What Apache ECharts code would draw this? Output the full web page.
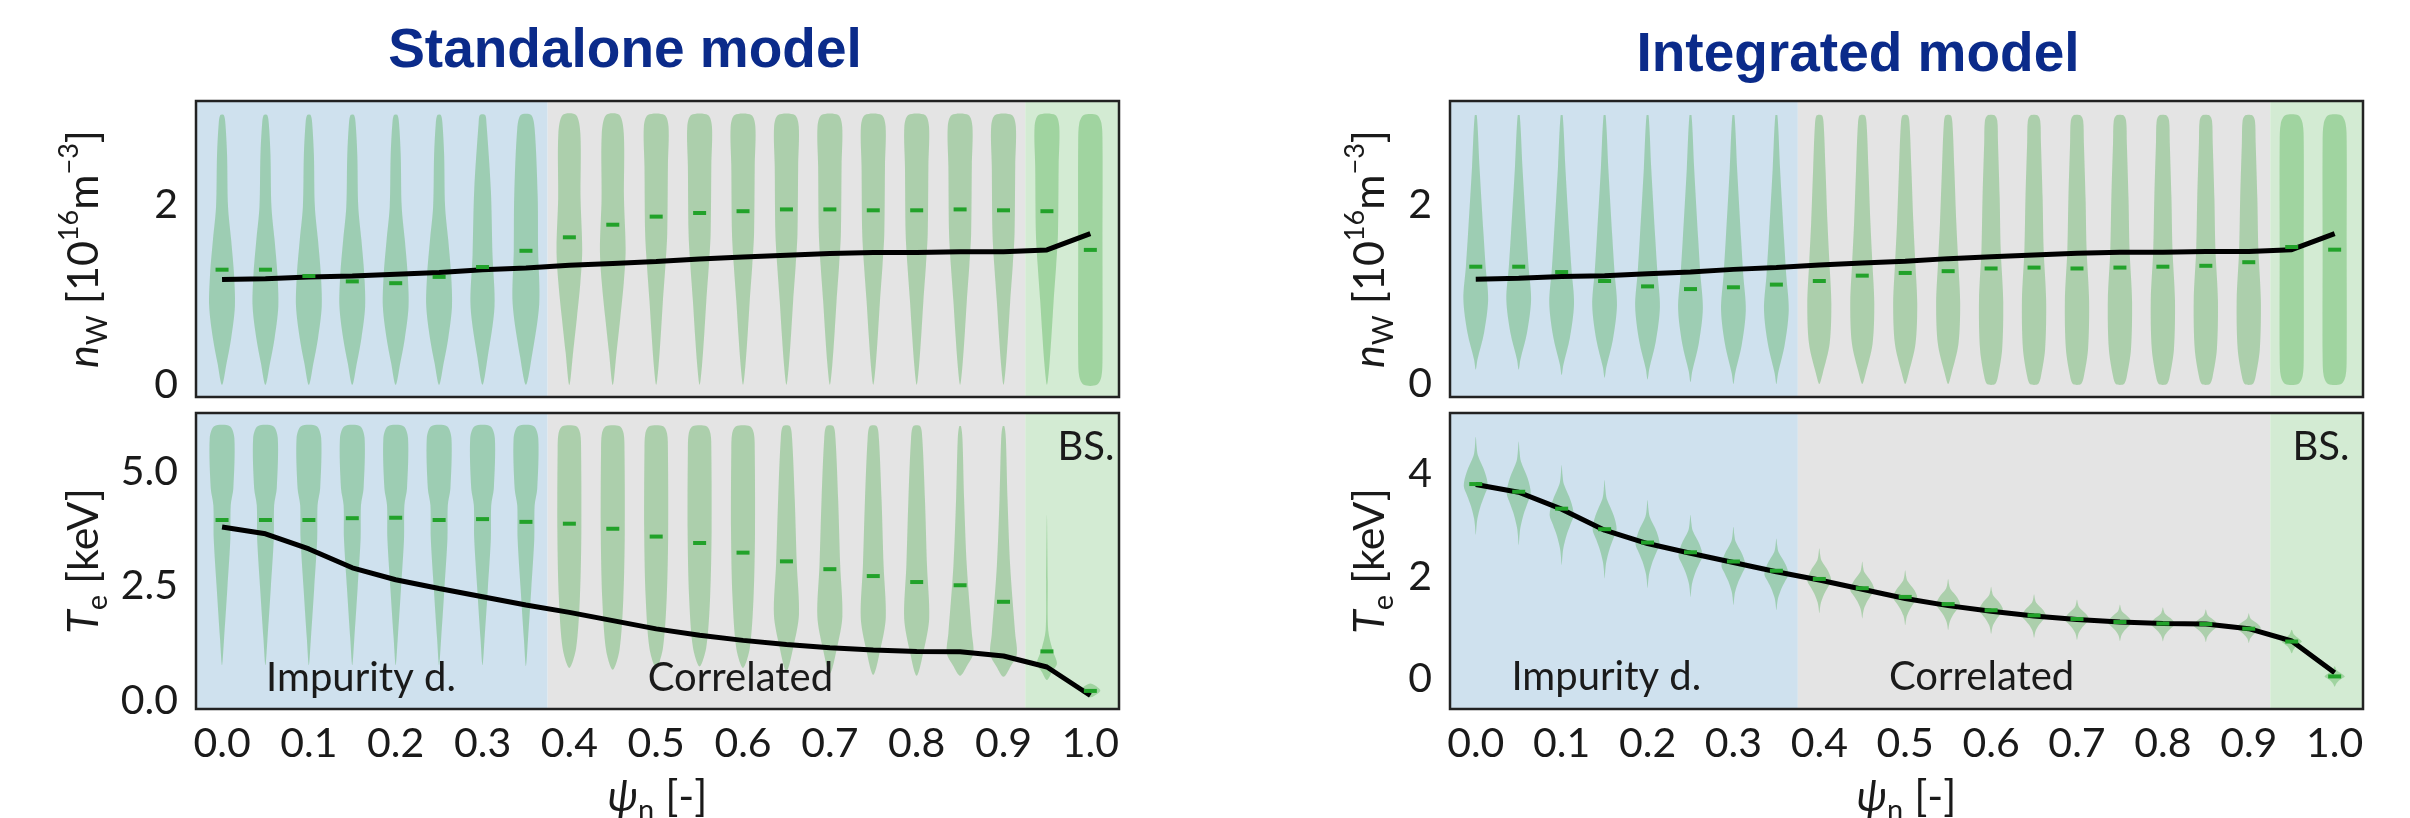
<!DOCTYPE html>
<html>
<head>
<meta charset="utf-8">
<script src="https://cdn.jsdelivr.net/npm/echarts@6/dist/echarts.min.js"></script>
<style>
  html, body { margin: 0; padding: 0; background: #fff; }
  #chart { width: 2410px; height: 818px; }
</style>
</head>
<body>
<div id="chart"></div>
<script>
// normalised flux coordinate of every violin
const psi = [0, 0.05, 0.1, 0.15, 0.2, 0.25, 0.3, 0.35, 0.4, 0.45, 0.5, 0.55, 0.6, 0.65, 0.7, 0.75, 0.8, 0.85, 0.9, 0.95, 1.0];
const xTicks = [0, 0.1, 0.2, 0.3, 0.4, 0.5, 0.6, 0.7, 0.8, 0.9, 1.0];

// true profiles (black line)
const nwTrue = [1.17, 1.18, 1.20, 1.21, 1.23, 1.25, 1.28, 1.30, 1.33, 1.35, 1.37, 1.40, 1.42, 1.44, 1.46, 1.47, 1.47, 1.48, 1.48, 1.50, 1.68];
const teTrue = [3.79, 3.64, 3.31, 2.90, 2.64, 2.45, 2.27, 2.09, 1.93, 1.75, 1.57, 1.43, 1.32, 1.23, 1.16, 1.11, 1.08, 1.07, 0.98, 0.74, 0.12];

// posterior medians (green dashes)
const nwStandalone = [1.28, 1.28, 1.21, 1.15, 1.13, 1.20, 1.31, 1.49, 1.64, 1.78, 1.87, 1.91, 1.93, 1.95, 1.95, 1.94, 1.94, 1.95, 1.94, 1.93, 1.50];
const teStandalone = [3.94, 3.94, 3.94, 3.98, 3.99, 3.94, 3.96, 3.90, 3.86, 3.75, 3.58, 3.44, 3.23, 3.04, 2.87, 2.72, 2.59, 2.52, 2.16, 1.08, 0.22];
const nwIntegrated = [1.31, 1.31, 1.25, 1.15, 1.09, 1.06, 1.08, 1.11, 1.15, 1.21, 1.24, 1.26, 1.29, 1.30, 1.29, 1.30, 1.31, 1.32, 1.36, 1.53, 1.50];
const teIntegrated = [3.80, 3.65, 3.32, 2.92, 2.66, 2.47, 2.29, 2.11, 1.95, 1.77, 1.60, 1.46, 1.34, 1.24, 1.17, 1.11, 1.08, 1.07, 0.98, 0.73, 0.05];

// violin extents (low / high end of each posterior)
const nwSaLo = [0, 0, 0, 0, 0, 0, 0, 0, 0, 0, 0, 0, 0, 0, 0, 0, 0, 0, 0, 0, 0];
const nwSaHi = [3.0, 3.0, 3.0, 3.0, 3.0, 3.0, 3.0, 3.0, 3.0, 3.0, 3.0, 3.0, 3.0, 3.0, 3.0, 3.0, 3.0, 3.0, 3.0, 3.0, 3.0];
const nwInLo = [0.16, 0.16, 0.10, 0.07, 0.05, 0.02, 0.0, 0.0, 0.0, 0.0, 0.0, 0.0, 0.0, 0.0, 0.0, 0.0, 0.0, 0.0, 0.0, 0.0, 0.0];
const nwInHi = [3.0, 3.0, 3.0, 3.0, 3.0, 3.0, 3.0, 3.0, 3.0, 3.0, 3.0, 3.0, 3.0, 3.0, 3.0, 3.0, 3.0, 3.0, 3.0, 3.0, 3.0];
const teSaLo = [0.78, 0.78, 0.78, 0.78, 0.78, 0.78, 0.78, 0.76, 0.72, 0.68, 0.72, 0.75, 0.72, 0.65, 0.60, 0.57, 0.55, 0.55, 0.53, 0.46, 0.08];
const teSaHi = [5.98, 5.98, 5.98, 5.98, 5.98, 5.98, 5.98, 5.98, 5.98, 5.98, 5.98, 5.98, 5.98, 5.98, 5.98, 5.98, 5.98, 5.98, 5.98, 4.05, 0.38];
const teInLo = [2.81, 2.61, 2.22, 1.96, 1.77, 1.60, 1.44, 1.34, 1.28, 1.18, 1.05, 0.95, 0.88, 0.80, 0.76, 0.74, 0.73, 0.72, 0.70, 0.50, -0.15];
const teInHi = [4.72, 4.63, 4.17, 3.88, 3.49, 3.20, 2.97, 2.74, 2.55, 2.29, 2.12, 1.95, 1.80, 1.65, 1.55, 1.45, 1.40, 1.36, 1.28, 0.96, 0.25];

// violin outline templates: [fraction of height, half width in psi units]
const nwSaShapes = [
  [[0, 0], [0.08, 0.0052], [0.17, 0.0104], [0.29, 0.0148], [0.41, 0.0138], [0.54, 0.0104], [0.66, 0.0069], [0.85, 0.0058], [0.97, 0.0038], [1, 0.002]],
  [[0, 0], [0.1, 0.0058], [0.29, 0.0138], [0.48, 0.0115], [0.72, 0.0096], [0.97, 0.0045], [1, 0.003]],
  [[0, 0], [0.1, 0.0065], [0.3, 0.0153], [0.5, 0.0140], [0.7, 0.0135], [0.95, 0.0100], [1, 0.006]],
  [[0, 0], [0.12, 0.0043], [0.25, 0.0087], [0.38, 0.0127], [0.5, 0.0148], [0.69, 0.0129], [0.93, 0.0127], [1, 0.0077]],
  [[0, 0], [0.07, 0.0027], [0.19, 0.0054], [0.31, 0.0077], [0.44, 0.0106], [0.56, 0.0127], [0.81, 0.0135], [0.957, 0.0142], [1, 0.0096]],
  [[0, 0.0075], [0.03, 0.0127], [0.1, 0.0140], [0.5, 0.0140], [0.9, 0.0140], [0.97, 0.0127], [1, 0.0075]]
];
const nwSaShapeIdx = [0, 0, 0, 0, 0, 0, 1, 2, 3, 3, 4, 4, 4, 4, 4, 4, 4, 4, 4, 4, 5];

const nwInShapes = [
  [[0, 0], [0.04, 0.0020], [0.144, 0.0096], [0.275, 0.0144], [0.405, 0.0115], [0.535, 0.0090], [0.8, 0.0043], [1, 0.0012]],
  [[0, 0], [0.04, 0.004], [0.15, 0.0120], [0.3, 0.0140], [0.45, 0.0118], [0.6, 0.0095], [0.8, 0.0072], [0.97, 0.005], [1, 0.003]],
  [[0, 0.0046], [0.03, 0.0081], [0.13, 0.0129], [0.31, 0.0141], [0.5, 0.0112], [0.69, 0.0100], [0.9, 0.0080], [0.98, 0.0072], [1, 0.004]],
  [[0, 0.0075], [0.03, 0.0127], [0.1, 0.0140], [0.5, 0.0140], [0.9, 0.0140], [0.97, 0.0127], [1, 0.0075]]
];
const nwInShapeIdx = [0, 0, 0, 0, 0, 0, 0, 0, 1, 1, 1, 1, 2, 2, 2, 2, 2, 2, 2, 3, 3];

const teSaShapes = [
  [[0, 0], [0.11, 0.0023], [0.32, 0.0061], [0.53, 0.0096], [0.67, 0.0100], [0.74, 0.0130], [0.95, 0.0142], [1, 0.009]],
  [[0, 0], [0.08, 0.0077], [0.29, 0.0121], [0.56, 0.0138], [0.9, 0.0135], [0.97, 0.0125], [1, 0.008]],
  [[0, 0], [0.1, 0.008], [0.23, 0.0144], [0.44, 0.0119], [0.7, 0.0096], [0.95, 0.0065], [1, 0.004]],
  [[0, 0], [0.04, 0.008], [0.09, 0.0153], [0.17, 0.0135], [0.44, 0.0077], [0.71, 0.0046], [0.95, 0.0027], [1, 0.001]],
  [[0, 0], [0.05, 0.006], [0.1, 0.0115], [0.18, 0.0066], [0.3, 0.0015], [0.6, 0.0009], [1, 0]],
  [[0, 0], [0.3, 0.009], [0.5, 0.0115], [0.7, 0.009], [1, 0]]
];
const teSaShapeIdx = [0, 0, 0, 0, 0, 0, 0, 0, 1, 1, 1, 1, 1, 2, 2, 2, 2, 3, 3, 4, 5];

const teInShapes = [
  [[0, 0], [0.1, 0.001], [0.17, 0.002], [0.3, 0.0058], [0.4, 0.0100], [0.5, 0.0140], [0.64, 0.0106], [0.81, 0.0025], [0.9, 0.001], [1, 0]],
  [[0, 0], [0.15, 0.002], [0.3, 0.0050], [0.4, 0.0085], [0.5, 0.0118], [0.62, 0.0085], [0.8, 0.0025], [1, 0]]
];
const teInShapeIdx = [0, 0, 0, 0, 0, 0, 0, 0, 0, 0, 0, 0, 0, 0, 0, 0, 0, 0, 0, 1, 1];

// region boundaries along psi
const regionEdges = [-0.03, 0.375, 0.925, 1.033];
const regionColors = ['#cfe1ee', '#e4e4e4', '#d3ebd3'];

const FONT = 'Lato';
const INK = '#1a1a1a';

const chart = echarts.init(document.getElementById('chart'), null, { renderer: 'canvas' });

function violinRender(shapes) {
  return function (params, api) {
    const x = api.value(0);
    const lo = api.value(1);
    const hi = api.value(2);
    const shape = shapes[api.value(3)];
    const right = [];
    const left = [];
    shape.forEach(function (p) {
      const y = lo + p[0] * (hi - lo);
      right.push(api.coord([x + p[1], y]));
      if (p[1] > 0) {
        left.push(api.coord([x - p[1], y]));
      }
    });
    return {
      type: 'polygon',
      shape: { points: right.concat(left.reverse()), smooth: 0.3 },
      style: { fill: 'rgba(44,160,44,0.3)' }
    };
  };
}

function violinData(lo, hi, idx) {
  return psi.map(function (p, i) { return [p, lo[i], hi[i], idx[i]]; });
}

function regionSeries(axisIdx) {
  const areas = regionColors.map(function (c, i) {
    return [{ xAxis: regionEdges[i], itemStyle: { color: c } }, { xAxis: regionEdges[i + 1] }];
  });
  return {
    type: 'line',
    xAxisIndex: axisIdx,
    yAxisIndex: axisIdx,
    data: [],
    z: 1,
    silent: true,
    markArea: { silent: true, itemStyle: { opacity: 1 }, data: areas }
  };
}

function panelSeries(axisIdx, lo, hi, shapes, idx, truth, median) {
  return [
    regionSeries(axisIdx),
    {
      type: 'custom',
      xAxisIndex: axisIdx,
      yAxisIndex: axisIdx,
      z: 2,
      silent: true,
      renderItem: violinRender(shapes),
      data: violinData(lo, hi, idx)
    },
    {
      type: 'line',
      xAxisIndex: axisIdx,
      yAxisIndex: axisIdx,
      z: 3,
      showSymbol: false,
      silent: true,
      lineStyle: { color: '#000', width: 5 },
      data: psi.map(function (p, i) { return [p, truth[i]]; })
    },
    {
      type: 'scatter',
      xAxisIndex: axisIdx,
      yAxisIndex: axisIdx,
      z: 4,
      silent: true,
      symbol: 'rect',
      symbolSize: [13, 4],
      itemStyle: { color: '#22a22a', opacity: 1 },
      data: psi.map(function (p, i) { return [p, median[i]]; })
    }
  ];
}

function textSeries(axisIdx, items) {
  return {
    type: 'custom',
    xAxisIndex: axisIdx,
    yAxisIndex: axisIdx,
    z: 5,
    silent: true,
    renderItem: function (params, api) {
      const pt = api.coord([api.value(0), api.value(1)]);
      const item = items[params.dataIndex];
      return {
        type: 'text',
        x: pt[0],
        y: pt[1],
        style: { text: item.text, font: '40px ' + FONT, fill: INK, align: 'center', verticalAlign: 'middle' }
      };
    },
    data: items.map(function (d) { return [d.x, d.y]; })
  };
}

const nameRich = {
  it: { fontStyle: 'italic', fontSize: 43, fontFamily: FONT, color: INK, lineHeight: 56 },
  sub: { fontSize: 29, fontFamily: FONT, color: INK, lineHeight: 31, verticalAlign: 'bottom' },
  sup: { fontSize: 27, fontFamily: FONT, color: INK, lineHeight: 27, verticalAlign: 'top' },
  n: { fontSize: 43, fontFamily: FONT, color: INK, lineHeight: 56 }
};

function xAxisCfg(gridIdx, withLabels) {
  return {
    type: 'value',
    gridIndex: gridIdx,
    min: -0.03,
    max: 1.033,
    axisLine: { show: false },
    splitLine: { show: false },
    axisTick: { show: true, inside: false, length: 8, customValues: xTicks, lineStyle: { color: INK, width: 2 } },
    axisLabel: {
      show: withLabels,
      customValues: xTicks,
      margin: 14,
      fontFamily: FONT,
      fontSize: 41,
      color: INK,
      formatter: function (v) { return v.toFixed(1); }
    },
    name: withLabels ? '{it|ψ}{sub|n}{n| [-]}' : '',
    nameLocation: 'middle',
    nameGap: 60,
    nameTextStyle: { rich: nameRich }
  };
}

function yAxisCfg(gridIdx, min, max, ticks, digits, name, gap) {
  return {
    type: 'value',
    gridIndex: gridIdx,
    min: min,
    max: max,
    axisLine: { show: false },
    splitLine: { show: false },
    axisTick: { show: true, inside: false, length: 9, customValues: ticks, lineStyle: { color: INK, width: 2 } },
    axisLabel: {
      customValues: ticks,
      margin: 18,
      fontFamily: FONT,
      fontSize: 41,
      color: INK,
      formatter: function (v) { return v.toFixed(digits); }
    },
    name: name,
    nameLocation: 'middle',
    nameRotate: 90,
    nameGap: gap,
    nameTextStyle: { rich: nameRich }
  };
}

const gridBase = { show: true, z: 10, backgroundColor: 'transparent', borderColor: '#222', borderWidth: 2.5, outerBoundsMode: 'none', containLabel: false };

const nwName = '{it|n}{sub|W}{n| [10}{sup|16}{n|m}{sup|−3}{n|]}';
const teName = '{it|T}{sub|e}{n| [keV]}';

chart.setOption({
  animation: false,
  backgroundColor: '#fff',
  graphic: [
    { type: 'text', x: 625, y: 52, style: { text: 'Standalone model', font: 'bold 55px "Liberation Sans"', fill: '#0b2b8a', align: 'center', verticalAlign: 'middle' } },
    { type: 'text', x: 1858, y: 56, style: { text: 'Integrated model', font: 'bold 55px "Liberation Sans"', fill: '#0b2b8a', align: 'center', verticalAlign: 'middle' } }
  ],
  grid: [
    Object.assign({ left: 196, top: 101, width: 923, height: 296 }, gridBase),
    Object.assign({ left: 196, top: 413, width: 923, height: 296 }, gridBase),
    Object.assign({ left: 1450, top: 101, width: 913, height: 296 }, gridBase),
    Object.assign({ left: 1450, top: 413, width: 913, height: 296 }, gridBase)
  ],
  xAxis: [
    xAxisCfg(0, false),
    xAxisCfg(1, true),
    xAxisCfg(2, false),
    xAxisCfg(3, true)
  ],
  yAxis: [
    yAxisCfg(0, -0.135, 3.155, [0, 2], 0, nwName, 84),
    yAxisCfg(1, -0.174, 6.27, [0, 2.5, 5.0], 1, teName, 84),
    yAxisCfg(2, -0.145, 3.16, [0, 2], 0, nwName, 52),
    yAxisCfg(3, -0.585, 5.185, [0, 2, 4], 0, teName, 52)
  ],
  series: [].concat(
    panelSeries(0, nwSaLo, nwSaHi, nwSaShapes, nwSaShapeIdx, nwTrue, nwStandalone),
    panelSeries(1, teSaLo, teSaHi, teSaShapes, teSaShapeIdx, teTrue, teStandalone),
    panelSeries(2, nwInLo, nwInHi, nwInShapes, nwInShapeIdx, nwTrue, nwIntegrated),
    panelSeries(3, teInLo, teInHi, teInShapes, teInShapeIdx, teTrue, teIntegrated),
    [
      textSeries(1, [
        { text: 'Impurity d.', x: 0.16, y: 0.5 },
        { text: 'Correlated', x: 0.597, y: 0.5 },
        { text: 'BS.', x: 0.995, y: 5.53 }
      ]),
      textSeries(3, [
        { text: 'Impurity d.', x: 0.152, y: 0.04 },
        { text: 'Correlated', x: 0.589, y: 0.04 },
        { text: 'BS.', x: 0.984, y: 4.52 }
      ])
    ]
  )
});
</script>
</body>
</html>
